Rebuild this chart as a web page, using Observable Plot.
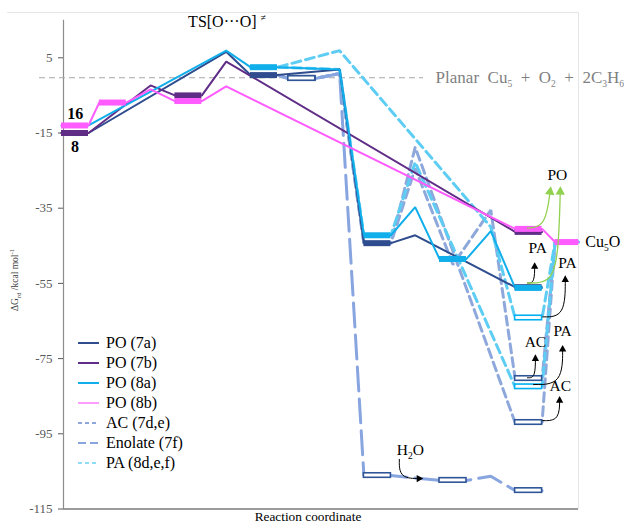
<!DOCTYPE html>
<html>
<head>
<meta charset="utf-8">
<script src="https://cdn.jsdelivr.net/npm/d3@7"></script>
<script src="https://cdn.jsdelivr.net/npm/@observablehq/plot@0.6"></script>
<style>
  html, body { margin: 0; padding: 0; background: #fff; }
  #chart { position: relative; width: 624px; height: 523px; overflow: hidden;
           font-family: "Liberation Serif", "Times New Roman", serif; }
  #chart > svg { position: absolute; left: 0; top: 0; }
  .frame { position: absolute; left: 7px; top: 12px; width: 571px; height: 496px;
           border-top: 1px solid #e6e6e6; border-right: 1px solid #e6e6e6; pointer-events: none; }
  .ylabel { position: absolute; left: 15px; top: 280px; transform: translate(-50%, -50%) rotate(-90deg);
            white-space: nowrap; font-size: 9.5px; color: #404040; }
  .ylabel sub, .ylabel sup { font-size: 70%; }
  .xlabel { position: absolute; left: 308px; top: 517px; transform: translate(-50%, -50%);
            white-space: nowrap; font-size: 13.3px; color: #000; }
  .legend { position: absolute; left: 78px; top: 333px; font-size: 16px; color: #000; }
  .legend .row { height: 20px; display: flex; align-items: center; }
  .legend svg { margin-right: 7px; }
</style>
</head>
<body>
<div id="chart"><div class="frame"></div></div>
<script>
// ---------------- data ----------------
const yTicks = [5, -15, -35, -55, -75, -95, -115];

// kinds: L = level with own bar, S = shared level (no bar), T = transition point
const po7aStages   = [0, 4, 5, 7, 8, 9, 12];
const po7aEnergies = [-15, 6.6, 0.4, 1.9, -44.3, -42.2, -56.0];
const po7aKinds    = "STLTLTL";

const po7bStages   = [0, 2, 3, 4, 12];
const po7bEnergies = [-15, -2.35, -5.0, 4.0, -41.3];
const po7bKinds    = "LTLTL";

const po8aStages   = [0, 4, 5, 7, 8, 9, 10, 11, 12];
const po8aEnergies = [-13, 6.9, 2.5, 1.9, -42.2, -34.7, -48.5, -41.1, -56.2];
const po8aKinds    = "STLTLTLTL";

const po8bStages   = [0, 1, 2, 3, 4, 12, 13];
const po8bEnergies = [-13, -6.9, -3.4, -6.5, -2.6, -40.5, -44.0];
const po8bKinds    = "LLTLTLL";

const ac7dStages   = [5, 6, 7, 8, 9, 12, 13];
const ac7dEnergies = [0.4, -0.5, 0.8, -44.3, -18.8, -92.0, -44.0];
const ac7dKinds    = "SLTSTLS";

const ac7eStages   = [5, 6, 7, 8, 9, 10, 11, 12, 13];
const ac7eEnergies = [0.4, -0.5, 0.8, -44.3, -24.4, -50.0, -35.5, -80.3, -44.0];
const ac7eKinds    = "SLTSTTTLS";

const en7fStages   = [5, 6, 7, 8, 10, 11, 12];
const en7fEnergies = [0.4, -0.5, 0.8, -106.1, -107.4, -106.3, -110.1];
const en7fKinds    = "SLTLLTL";

const pa8dStages   = [5, 7, 11, 12, 13];
const pa8dEnergies = [2.5, 6.9, -40.0, -64.2, -44.0];
const pa8dKinds    = "STTLS";

const pa8eStages   = [5, 7, 8, 9, 12, 13];
const pa8eEnergies = [2.5, 1.9, -42.2, -22.8, -82.5, -44.0];
const pa8eKinds    = "STSTLS";

const refEnergy = -0.3;

// annotations (text, stage, energy)
const noteTexts    = ["PO", "PA", "PA", "AC", "PA", "AC", "H_2O"];
const noteStages   = [12.76, 12.24, 13.03, 12.18, 12.9, 12.84, 8.87];
const noteEnergies = [-26.3, -45.6, -49.6, -70.5, -67.8, -82.2, -99.4];

// callout arrows: start, bend, end (stage, energy)
const arrowIds     = ["a1","a1","a1","a2","a2","a2","a3","a3","a3","a4","a4","a4","a5","a5","a5","h","h","h","g1","g1","g1","g2","g2","g2","g2"];
const arrowStages  = [11.97,12.16,12.16, 12.37,12.97,12.97, 11.97,12.18,12.18, 12.13,12.9,12.9, 12.37,12.82,12.82, 8.58,8.58,9.17, 11.97,12.45,12.58, 11.97,12.58,12.79,12.84];
const arrowEnergies= [-54.9,-54.9,-49.8, -63.9,-63.9,-53.3, -80.1,-80.1,-74.3, -81.9,-81.9,-71.8, -91.5,-91.5,-85.4, -101.8,-106.9,-106.9, -40.3,-40.0,-29.7, -54.9,-54.9,-48.0,-29.7];

const legendLabels = ["PO (7a)", "PO (7b)", "PO (8a)", "PO (8b)", "AC (7d,e)", "Enolate (7f)", "PA (8d,e,f)"];

// ---------------- styles ----------------
const C7a = "#2E4C8E", C7b = "#5F2D86", C8a = "#10AEEA", C8b = "#FF5CFF";
const CAC = "#8EA8DB", CEN = "#88A5E0", CPA = "#5ECDF4";
const BOX7 = "#2F5597", BOX8 = "#00B0F0";
const styleOf = {
  "PO (7a)": {color: C7a, width: 2, dash: null},
  "PO (7b)": {color: C7b, width: 2, dash: null},
  "PO (8a)": {color: C8a, width: 2, dash: null},
  "PO (8b)": {color: C8b, width: 2, dash: null},
  "AC (7d)": {color: CAC, width: 3, dash: "9,5", box: BOX7},
  "AC (7e)": {color: CAC, width: 3, dash: "9,5", box: BOX7},
  "Enolate (7f)": {color: CEN, width: 3, dash: "24,8", box: BOX7},
  "PA (8d)": {color: CPA, width: 3, dash: "9,5", box: BOX8},
  "PA (8e)": {color: CPA, width: 3, dash: "9,5", box: BOX8}
};
const legendStyles = [
  {color: C7a, dash: null}, {color: C7b, dash: null}, {color: C8a, dash: null}, {color: "#FF9CFF", dash: null},
  {color: CAC, dash: "4,3"}, {color: CEN, dash: "8,4"}, {color: "#8FDCF7", dash: "4,3"}
];

// ---------------- build tables ----------------
const series = [
  {name: "AC (7d)", stages: ac7dStages, energies: ac7dEnergies, kinds: ac7dKinds},
  {name: "AC (7e)", stages: ac7eStages, energies: ac7eEnergies, kinds: ac7eKinds},
  {name: "Enolate (7f)", stages: en7fStages, energies: en7fEnergies, kinds: en7fKinds},
  {name: "PA (8d)", stages: pa8dStages, energies: pa8dEnergies, kinds: pa8dKinds},
  {name: "PA (8e)", stages: pa8eStages, energies: pa8eEnergies, kinds: pa8eKinds},
  {name: "PO (7a)", stages: po7aStages, energies: po7aEnergies, kinds: po7aKinds},
  {name: "PO (7b)", stages: po7bStages, energies: po7bEnergies, kinds: po7bKinds},
  {name: "PO (8a)", stages: po8aStages, energies: po8aEnergies, kinds: po8aKinds},
  {name: "PO (8b)", stages: po8bStages, energies: po8bEnergies, kinds: po8bKinds}
];

const xDomain = [-0.304, 13.32];
const HALF = 0.357;
const edgesOf = s => s === 13 ? [12.7, xDomain[1]] : [s - HALF, s + HALF];

function build(sr) {
  const pts = [], levels = [];
  sr.stages.forEach((s, i) => {
    const e = sr.energies[i], k = sr.kinds[i];
    if (k === "T") pts.push({series: sr.name, x: s, y: e});
    else {
      const [a, b] = edgesOf(s);
      pts.push({series: sr.name, x: a, y: e}, {series: sr.name, x: b, y: e});
      if (k === "L") levels.push({series: sr.name, x1: a, x2: b, energy: e});
    }
  });
  return {pts, levels};
}

const built = series.map(sr => ({sr, ...build(sr)}));
const lineMarks = built.map(({sr, pts}) => {
  const st = styleOf[sr.name];
  return Plot.line(pts, {x: "x", y: "y", stroke: st.color, strokeWidth: st.width,
    strokeDasharray: st.dash || undefined, strokeLinejoin: "miter"});
});
const solidBars = built.filter(b => !styleOf[b.sr.name].box).flatMap(b => b.levels);
const hollowBars = built.filter(b => styleOf[b.sr.name].box).flatMap(b => b.levels);

const notes = noteTexts.map((t, i) => ({text: t, x: noteStages[i], y: noteEnergies[i]}));
const arrowPts = arrowIds.map((id, i) => ({id, x: arrowStages[i], y: arrowEnergies[i],
  color: id.startsWith("g") ? "#92D050" : "#000000"}));

// ---------------- plot ----------------
const chart = Plot.plot({
  width: 624, height: 523,
  marginLeft: 63, marginRight: 46, marginTop: 19.7, marginBottom: 14.5,
  x: {domain: xDomain, axis: null},
  y: {domain: [-115, 15], ticks: yTicks, tickSize: 5, tickPadding: 6, tickFormat: d => String(d), label: null},
  color: {type: "identity"},
  style: {fontFamily: "Liberation Serif, Times New Roman, serif", fontSize: "13px", color: "#595959",
          background: "transparent", overflow: "visible"},
  marks: [
    Plot.ruleX([xDomain[0]], {stroke: "#8c8c8c", strokeWidth: 1.2}),
    Plot.ruleY([-115], {stroke: "#7a7a7a", strokeWidth: 1.3}),
    Plot.ruleY([refEnergy], {x1: -0.94, x2: 9.22, stroke: "#A6A6A6", strokeWidth: 1.2, strokeDasharray: "6,4"}),
    ...lineMarks,
    Plot.ruleY(solidBars, {y: "energy", x1: "x1", x2: "x2", stroke: d => styleOf[d.series].color, strokeWidth: 6}),
    Plot.rect(hollowBars, {x1: "x1", x2: "x2", y1: d => d.energy - 0.6, y2: d => d.energy + 0.6,
      fill: "white", stroke: d => styleOf[d.series].box, strokeWidth: 1.6}),
    Plot.line(arrowPts, {x: "x", y: "y", z: "id", stroke: "color", strokeWidth: d => d.color === "#000000" ? 1 : 1.3,
      curve: "basis", markerEnd: "arrow"}),
    Plot.text(notes, {x: "x", y: "y", text: "text", fontSize: 15.5, fill: "#000"}),
    Plot.text(["Cu_5O"], {x: 13.5, y: -44.0, text: d => d, textAnchor: "start", fontSize: 16, fill: "#000"}),
    Plot.text(["16"], {x: 0.01, y: -9.8, text: d => d, fontSize: 16, fontWeight: "bold", fill: "#000"}),
    Plot.text(["8"], {x: 0.0, y: -18.8, text: d => d, fontSize: 16, fontWeight: "bold", fill: "#000"}),
    Plot.text(["TS[O···O] ^≠"], {x: 4.02, y: 14.6, text: d => d, fontSize: 16, fill: "#000"}),
    Plot.text(["Planar\u00a0\u00a0Cu_5\u00a0\u00a0+\u00a0\u00a0O_2\u00a0\u00a0+\u00a0\u00a02C_3H_6"], {x: 9.54, y: refEnergy, text: d => d, textAnchor: "start", fontSize: 17, fill: "#7F7F7F"})
  ]
});

// rich text: _x subscript, ^x superscript
function richify(svg) {
  svg.querySelectorAll("text").forEach(t => {
    const s = t.textContent;
    if (!/[_^]/.test(s)) return;
    const fs = parseFloat(t.getAttribute("font-size")) || parseFloat(getComputedStyle(t).fontSize) || 14;
    t.textContent = "";
    let shift = 0;
    const re = /([_^])(.)|([^_^]+)/g;
    let m;
    while ((m = re.exec(s))) {
      const span = document.createElementNS("http://www.w3.org/2000/svg", "tspan");
      if (m[3] !== undefined) {
        span.textContent = m[3];
        if (shift) { span.setAttribute("dy", -shift); shift = 0; }
      } else {
        const target = m[1] === "_" ? 0.28 * fs : -0.42 * fs;
        span.textContent = m[2];
        span.setAttribute("font-size", 0.68 * fs);
        span.setAttribute("dy", target - shift);
        shift = target;
      }
      t.appendChild(span);
    }
  });
}
richify(chart);

// filled arrow heads
chart.querySelectorAll("marker").forEach(mk => {
  const col = mk.getAttribute("stroke");
  mk.setAttribute("markerWidth", 11);
  mk.setAttribute("markerHeight", 11);
  mk.setAttribute("fill", col);
  mk.setAttribute("stroke", "none");
  const p = mk.querySelector("path");
  if (p) p.setAttribute("d", "M-4.5,-3.3L1.5,0L-4.5,3.3Z");
});

const host = document.getElementById("chart");
host.append(chart);

// axis labels
const yl = document.createElement("div");
yl.className = "ylabel";
yl.innerHTML = "ΔG<sub>rd</sub> /kcal mol<sup>-1</sup>";
host.append(yl);
const xl = document.createElement("div");
xl.className = "xlabel";
xl.textContent = "Reaction coordinate";
host.append(xl);

// legend
const lg = document.createElement("div");
lg.className = "legend";
legendLabels.forEach((lab, i) => {
  const row = document.createElement("div");
  row.className = "row";
  const st = legendStyles[i];
  row.innerHTML = `<svg width="21" height="6"><line x1="0" x2="21" y1="3" y2="3" stroke="${st.color}" stroke-width="2" ${st.dash ? `stroke-dasharray="${st.dash}"` : ""}/></svg><span>${lab}</span>`;
  lg.append(row);
});
host.append(lg);
</script>
</body>
</html>
